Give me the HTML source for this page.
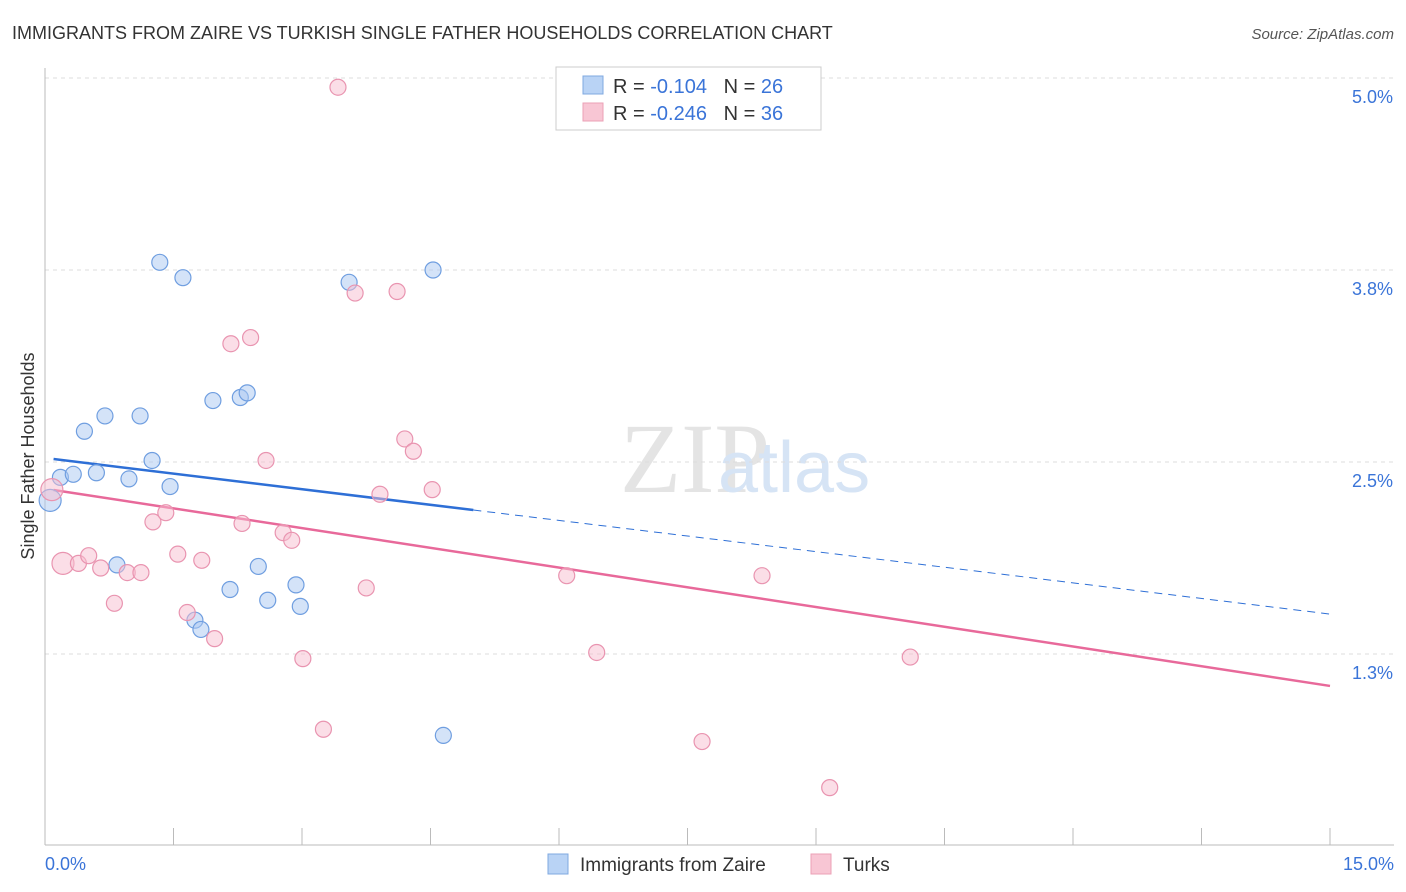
<!DOCTYPE html>
<html><head><meta charset="utf-8"><style>
body{margin:0;background:#fff;font-family:"Liberation Sans",sans-serif}
svg{display:block}
</style></head><body>
<svg id="chart" width="1406" height="892">
<text x="12" y="39" font-size="18" fill="#333">IMMIGRANTS FROM ZAIRE VS TURKISH SINGLE FATHER HOUSEHOLDS CORRELATION CHART</text>
<text x="1394" y="39" font-size="15" fill="#555" text-anchor="end" font-style="italic">Source: ZipAtlas.com</text>
<text x="620" y="492" font-size="100" fill="#e4e4e4" font-family="Liberation Serif,serif">ZIP</text>
<text x="718" y="492" font-size="72" fill="#d6e4f5">atlas</text>
<text transform="translate(34,456) rotate(-90)" font-size="18" fill="#333" text-anchor="middle">Single Father Households</text>
<g id="grid"></g><g id="axes"></g><g id="lines"></g><g id="pts"></g>
<g>
<rect x="556" y="67" width="265" height="63" fill="#fff" stroke="#ccc"/>
<rect x="583" y="76" width="20" height="18" fill="#b9d3f5" stroke="#7fa8e0"/>
<text x="613" y="93" font-size="20" fill="#333">R = <tspan fill="#3a74d8">-0.104</tspan>&#160;&#160;&#160;N = <tspan fill="#3a74d8">26</tspan></text>
<rect x="583" y="103" width="20" height="18" fill="#f8c6d4" stroke="#eba0b6"/>
<text x="613" y="120" font-size="20" fill="#333">R = <tspan fill="#3a74d8">-0.246</tspan>&#160;&#160;&#160;N = <tspan fill="#3a74d8">36</tspan></text>
</g>
<g>
<rect x="548" y="854" width="20" height="20" fill="#b9d3f5" stroke="#7fa8e0"/>
<text x="580" y="871" font-size="19" fill="#333">Immigrants from Zaire</text>
<rect x="811" y="854" width="20" height="20" fill="#f8c6d4" stroke="#eba0b6"/>
<text x="843" y="871" font-size="19" fill="#333">Turks</text>
</g>
</svg>
<script>
const yTicks=[1.25,2.5,3.75,5.0];
const yTickLabels=["1.3%","2.5%","3.8%","5.0%"];
const xTickLabels=["0.0%","15.0%"];
const zaireX=[0.06,0.18,0.33,0.46,0.60,0.70,0.84,0.98,1.11,1.25,1.34,1.46,1.61,1.75,1.82,1.96,2.16,2.28,2.36,2.49,2.60,2.93,2.98,3.55,4.53,4.65];
const zaireY=[2.25,2.40,2.42,2.70,2.43,2.80,1.83,2.39,2.80,2.51,3.80,2.34,3.70,1.47,1.41,2.90,1.67,2.92,2.95,1.82,1.60,1.70,1.56,3.67,3.75,0.72];
const turksX=[0.08,0.21,0.39,0.51,0.65,0.81,0.96,1.12,1.26,1.41,1.55,1.66,1.83,1.98,2.17,2.30,2.40,2.58,2.78,2.88,3.01,3.25,3.42,3.62,3.75,3.91,4.11,4.20,4.30,4.52,6.09,6.44,7.67,8.37,9.16,10.10];
const turksY=[2.32,1.84,1.84,1.89,1.81,1.58,1.78,1.78,2.11,2.17,1.90,1.52,1.86,1.35,3.27,2.10,3.31,2.51,2.04,1.99,1.22,0.76,4.94,3.60,1.68,2.29,3.61,2.65,2.57,2.32,1.76,1.26,0.68,1.76,0.38,1.23];
const zaireTrend=[2.526,1.51];
const turksTrend=[2.318,1.042];
const zaireSolidEnd=5.0;
const NS="http://www.w3.org/2000/svg";
const X=v=>45+v/15*1285;
const Y=v=>462-(v-2.5)*153.6;
function mk(p,tag,a){const e=document.createElementNS(NS,tag);for(const k in a)e.setAttribute(k,a[k]);document.getElementById(p).appendChild(e);return e;}
yTicks.forEach((t,i)=>{
 const l=mk('grid','line',{x1:45,x2:1394,y1:Y(t),y2:Y(t),stroke:'#ddd','stroke-dasharray':'4,4'});
 
 
 const tx=mk('grid','text',{x:1393,y:Y(t)+25,'font-size':18,fill:'#3a74d8','text-anchor':'end'});
 tx.textContent=yTickLabels[i];
 
 
});
let a=mk('axes','line',{x1:45,x2:45,y1:68,y2:845,stroke:'#bbb'});


a=mk('axes','line',{x1:45,x2:1394,y1:845,y2:845,stroke:'#bbb'});


for(let i=0;i<=10;i++){const t=mk('axes','line',{x1:X(i*1.5),x2:X(i*1.5),y1:828,y2:845,stroke:'#bbb'});
 
 }
[[0,'start',45],[15,'end',1394]].forEach((d,i)=>{const t=mk('axes','text',{x:d[2],y:870,'font-size':18,fill:'#3a74d8','text-anchor':d[1]});t.textContent=xTickLabels[i];
 
 });
const zl=v=>zaireTrend[0]+(zaireTrend[1]-zaireTrend[0])*v/15;
let l=mk('lines','line',{x1:X(0.1),y1:Y(zl(0.1)),x2:X(zaireSolidEnd),y2:Y(zl(zaireSolidEnd)),stroke:'#2e6fd6','stroke-width':2.5});


l=mk('lines','line',{x1:X(zaireSolidEnd),y1:Y(zl(zaireSolidEnd)),x2:X(15),y2:Y(zl(15)),stroke:'#2e6fd6','stroke-width':1,'stroke-dasharray':'8,6'});


l=mk('lines','line',{x1:X(0.1),y1:Y(turksTrend[0]),x2:X(15),y2:Y(turksTrend[1]),stroke:'#e8699a','stroke-width':2.5});


zaireX.forEach((x,i)=>{const c=mk('pts','circle',{cx:X(x),cy:Y(zaireY[i]),r:i==0?11:8,fill:'rgba(170,200,242,0.5)',stroke:'#6f9ee0','stroke-width':1.2});
 
 });
turksX.forEach((x,i)=>{const c=mk('pts','circle',{cx:X(x),cy:Y(turksY[i]),r:i<2?11:8,fill:'rgba(248,190,208,0.5)',stroke:'#e994b0','stroke-width':1.2});
 
 });
</script>
</body></html>
